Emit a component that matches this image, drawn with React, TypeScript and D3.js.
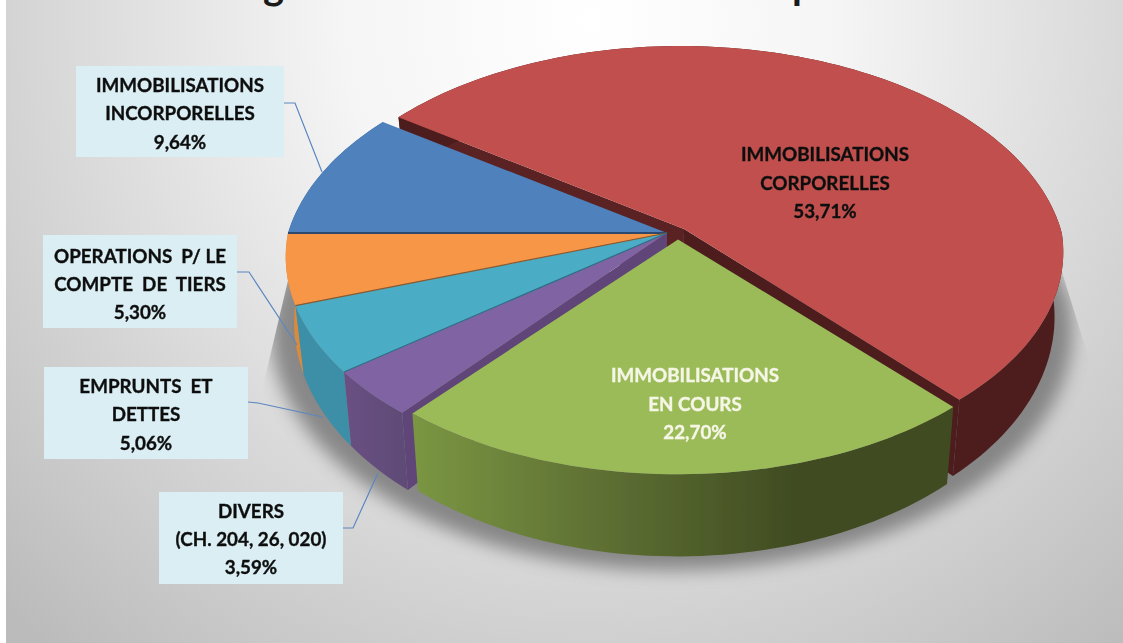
import React from "react";
import * as d3 from "d3";

const W = 1123, H = 643;
const categories = ["IMMOBILISATIONS CORPORELLES", "IMMOBILISATIONS EN COURS", "DIVERS (CH. 204, 26, 020)", "EMPRUNTS ET DETTES", "OPERATIONS P/ LE COMPTE DE TIERS", "IMMOBILISATIONS INCORPORELLES"];
const values = [53.71, 22.70, 3.59, 5.06, 5.30, 9.64];
const topColors = ["#c0504d", "#9bbb59", "#8064a2", "#4bacc6", "#f79646", "#4f81bd"];
const wallColors = ["#4d1e1e", "url(#greenWall)", "url(#purpleWall)", "#3e8fa8", "#d98a3c", "#3b6291"];
const drawOrder = [0, 5, 4, 3, 2, 1];
const seamColors = [null, null, null, "#2f6f85", "#8a5a30", "#2d4a70"];
const shifts: [number, number][] = [[0.042, -0.026], [0.025, 0.003], [0, 0], [0, 0], [0, 0], [0, 0]];
const apexShifts: [number, number][] = [[0.045, -0.019], [0.029, 0.03], [0, 0], [0, 0], [0, 0], [0, 0]];
const labelLines = [
  ["IMMOBILISATIONS", "CORPORELLES"],
  ["IMMOBILISATIONS", "EN COURS"],
  ["DIVERS", "(CH. 204, 26, 020)"],
  ["EMPRUNTS  ET", "DETTES"],
  ["OPERATIONS  P/ LE", "COMPTE  DE  TIERS"],
  ["IMMOBILISATIONS", "INCORPORELLES"],
];
const pct = (v: number) => d3.format(".2f")(v).replace(".", ",") + "%";

// chart geometry (fitted to the picture)
const cx = 667, cy = 233, Rx = 379, Ry = 214;
function project(u: number, v: number): [number, number] {
  const k = v < 0 ? 0.17 : 0.11;
  const d = 1 - k * v;
  return [cx + (Rx * u) / d, cy + (Ry * v) / d];
}
function drop(p: [number, number]): [number, number] {
  return [cx + (p[0] - cx) * 0.978, p[1] + 69 + (p[1] - 306) * 0.078];
}
const pieGen = d3.pie<number>().sort(null).startAngle((-55.3 * Math.PI) / 180).endAngle((304.7 * Math.PI) / 180);
const arcs = pieGen(values);
const line = d3.line();

function rim(i: number, a0: number, a1: number): [number, number][] {
  const [du, dv] = shifts[i];
  const n = Math.max(4, Math.ceil(((a1 - a0) * 180) / Math.PI / 1.5));
  return d3.range(n + 1).map((j) => {
    const a = a0 + ((a1 - a0) * j) / n;
    return project(Math.sin(a) + du, -Math.cos(a) + dv);
  });
}
function apex(i: number): [number, number] {
  return project(apexShifts[i][0], apexShifts[i][1]);
}

type Box = { i: number; x0: number; x1: number; y0: number; y1: number; tx: number; ys: number[]; conn: [number, number][] };
const boxes: Box[] = [
  { i: 5, x0: 76, x1: 284, y0: 66, y1: 157, tx: 180, ys: [85, 113, 142], conn: [[284, 103], [295, 103], [322, 172]] },
  { i: 4, x0: 43, x1: 237, y0: 235, y1: 328, tx: 140, ys: [256, 284, 312], conn: [[237, 272], [249, 272], [297, 345]] },
  { i: 3, x0: 44, x1: 248, y0: 367, y1: 459, tx: 146, ys: [386, 414, 443], conn: [[248, 402], [258, 403], [323, 417]] },
  { i: 2, x0: 159, x1: 343, y0: 492, y1: 584, tx: 251, ys: [511, 539, 567], conn: [[343, 528], [353, 528], [378, 473]] },
];
const insideLabels = [
  { i: 0, tx: 825, ys: [154, 183, 211], color: "#111" },
  { i: 1, tx: 695, ys: [375, 404, 432], color: "#f6f6e6" },
];
const font = "Lato, 'Noto Sans', sans-serif";

function Label({ i, tx, ys, color }: { i: number; tx: number; ys: number[]; color: string }) {
  const lines = [...labelLines[i], pct(values[i])];
  return (
    <g fontFamily={font} fontWeight={700} fontSize={18.8} textAnchor="middle" fill={color} stroke={color} strokeWidth={0.35}>
      {lines.map((t, j) => (
        <text key={j} x={tx} y={ys[j] + 6.5} style={{ whiteSpace: "pre" }}>{t}</text>
      ))}
    </g>
  );
}

export default function App() {
  // shadow: lower rim, enlarged and blurred
  const shadowPts = d3.range(0, 361, 3).map((deg) => {
    const a = (deg * Math.PI) / 180;
    const p = drop(project(1.075 * Math.sin(a) + 0.012, -1.03 * Math.cos(a)));
    return [p[0], p[1] + 6] as [number, number];
  });
  const shadowClip: [number, number][] = [[290, 272], [1062, 272], [1097, 385], [W, H], [0, H], [262, 390]];
  return (
    <svg width={W} height={H} style={{ position: "fixed", left: 0, top: 0, display: "block" }}>
      <defs>
        <radialGradient id="bg" gradientUnits="userSpaceOnUse" cx={590} cy={20} r={830}>
          <stop offset="0" stopColor="#ffffff" />
          <stop offset="0.3" stopColor="#f5f5f5" />
          <stop offset="0.65" stopColor="#d8d8d8" />
          <stop offset="1" stopColor="#bbbbbb" />
        </radialGradient>
        <linearGradient id="greenWall" gradientUnits="userSpaceOnUse" x1={415} x2={800} y1={0} y2={0}>
          <stop offset="0" stopColor="#7a9642" />
          <stop offset="0.4" stopColor="#637636" />
          <stop offset="1" stopColor="#3f4b21" />
        </linearGradient>
        <linearGradient id="purpleWall" gradientUnits="userSpaceOnUse" x1={345} x2={410} y1={0} y2={0}>
          <stop offset="0" stopColor="#6a5083" />
          <stop offset="1" stopColor="#5d4b75" />
        </linearGradient>
        <filter id="soft" x="-20%" y="-20%" width="140%" height="140%">
          <feGaussianBlur stdDeviation="9" />
        </filter>
        <filter id="scan" x="-2%" y="-2%" width="104%" height="104%">
          <feGaussianBlur stdDeviation="0.5" />
        </filter>
        <clipPath id="shadowClip">
          <path d={line(shadowClip) + "Z"} />
        </clipPath>
      </defs>

      <rect width={W} height={H} fill="#ffffff" />
      <rect x={6} width={W - 6} height={H} fill="url(#bg)" />

      {/* title: only the descenders of two letters are left inside the frame */}
      <g fontFamily="Lato, sans-serif" fontWeight={700} fontSize={40} fill="#1a1a1a">
        <text x={263} y={-1}>g</text>
        <text x={792} y={-1}>p</text>
      </g>

      <g clipPath="url(#shadowClip)">
        <path d={line(shadowPts) + "Z"} fill="#6a6a6a" opacity={0.75} filter="url(#soft)" />
      </g>

      <g filter="url(#scan)">
        {drawOrder.map((i) => {
          const a = arcs[i];
          const top = rim(i, a.startAngle, a.endAngle);
          const c = apex(i);
          const wall = [...top, ...top.slice().reverse().map(drop)];
          const startP = top[0];
          const endP = top[top.length - 1];
          const quad = (p: [number, number]) => [c, p, drop(p), drop(c)] as [number, number][];
          return (
            <g key={i}>
              {i === 0 && <path d={line(quad(startP)) + "Z"} fill="#5a2222" />}
              {i === 0 && <path d={line(quad(endP)) + "Z"} fill="#4d1e1e" />}
              {i === 2 && <path d={line(quad(startP)) + "Z"} fill="#5e4578" />}
              <path d={line(wall) + "Z"} fill={wallColors[i]} />
              <path d={line([c, ...top]) + "Z"} fill={topColors[i]} />
            </g>
          );
        })}
        {[5, 4, 3].map((i) => (
          <path
            key={i}
            d={line([apex(i), rim(i, arcs[i].startAngle, arcs[i].endAngle)[0]]) ?? ""}
            stroke={seamColors[i]!}
            strokeWidth={i === 5 ? 2 : 1.2}
            fill="none"
          />
        ))}

        {boxes.map((b) => (
          <g key={b.i}>
            <path d={line(b.conn) ?? ""} fill="none" stroke="#5b87c0" strokeWidth={1.2} />
            <rect x={b.x0} y={b.y0} width={b.x1 - b.x0} height={b.y1 - b.y0} fill="#daeef3" />
            <Label i={b.i} tx={b.tx} ys={b.ys} color="#111" />
          </g>
        ))}
        {insideLabels.map((l) => (
          <Label key={l.i} i={l.i} tx={l.tx} ys={l.ys} color={l.color} />
        ))}
      </g>
    </svg>
  );
}
